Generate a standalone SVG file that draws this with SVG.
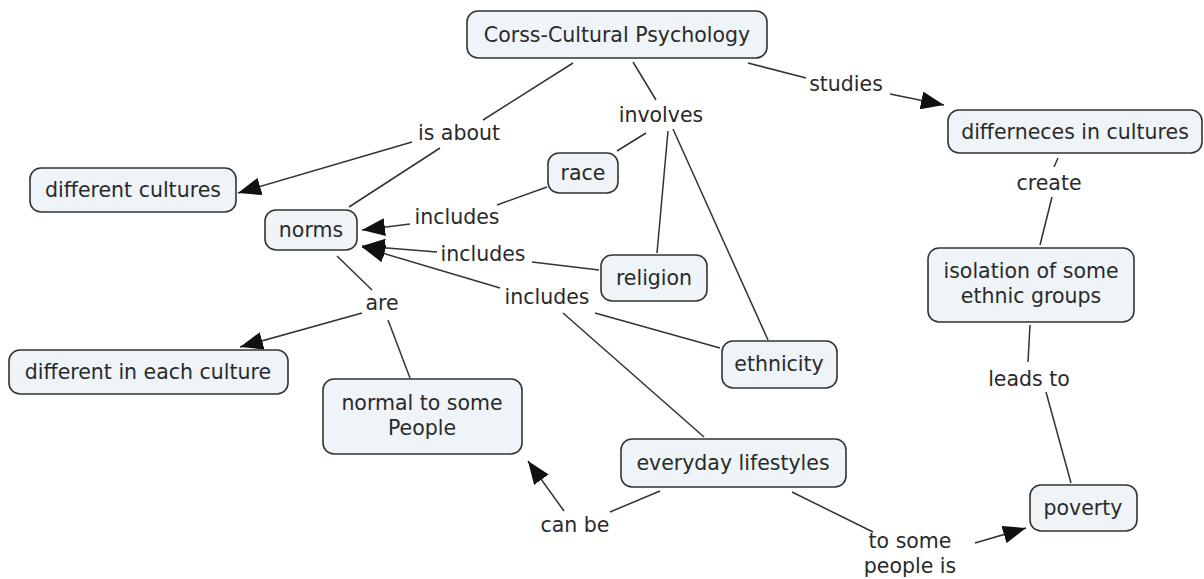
<svg xmlns="http://www.w3.org/2000/svg" width="1204" height="579" viewBox="0 0 1204 579">
<style>
.box{fill:#eef4f7;stroke:#333;stroke-width:1.6}
text{font-family:"DejaVu Sans","Verdana",sans-serif;font-size:20.5px;fill:#2a2a2a;text-anchor:middle}
.ln{stroke:#333;stroke-width:1.5;fill:none}
.ar{marker-end:url(#ah)}
</style>
<defs>
<marker id="ah" markerUnits="userSpaceOnUse" markerWidth="24" markerHeight="18" refX="23" refY="9" orient="auto">
<path d="M0,0 L23,9 L0,18 z" fill="#111"/>
</marker>
</defs>
<rect width="1204" height="579" fill="#fff"/>
<g id="connectors">
<path class="ln" d="M573,63 L483,120"/>
<path class="ln ar" d="M412,142 L238,193"/>
<path class="ln" d="M440,148 L349,207"/>
<path class="ln" d="M633,62 L656,100"/>
<path class="ln" d="M646,133 L617,151"/>
<path class="ln" d="M668,131 L657,253"/>
<path class="ln" d="M673,129 L768,340"/>
<path class="ln" d="M748,63 L806,78"/>
<path class="ln ar" d="M890,94 L944,105"/>
<path class="ln" d="M547,187 L497,205"/>
<path class="ln ar" d="M410,224 L362,230"/>
<path class="ln" d="M599,270 L532,262"/>
<path class="ln ar" d="M437,252 L362,246"/>
<path class="ln" d="M720,348 L595,313"/>
<path class="ln" d="M704,437 L563,313"/>
<path class="ln ar" d="M500,288 L362,247"/>
<path class="ln" d="M337,256 L372,290"/>
<path class="ln ar" d="M362,313 L240,347"/>
<path class="ln" d="M388,320 L410,378"/>
<path class="ln" d="M660,491 L610,512"/>
<path class="ln ar" d="M564,511 L528,461"/>
<path class="ln" d="M792,492 L873,532"/>
<path class="ln ar" d="M975,543 L1026,528"/>
<path class="ln" d="M1030,325 L1028,362"/>
<path class="ln" d="M1046,392 L1071,483"/>
<path class="ln" d="M1058,158 L1054,167"/>
<path class="ln" d="M1052,197 L1040,245"/>
</g>
<g id="labels">
<text x="459" y="140">is about</text>
<text x="661" y="122">involves</text>
<text x="846" y="91">studies</text>
<text x="457" y="224">includes</text>
<text x="483" y="261">includes</text>
<text x="547" y="304">includes</text>
<text x="382" y="310">are</text>
<text x="1049" y="190">create</text>
<text x="1029" y="386">leads to</text>
<text x="575" y="532">can be</text>
<text x="910" y="548">to some</text>
<text x="910" y="573">people is</text>
</g>
<g id="n-cc"><rect class="box" x="467" y="11" width="300" height="47" rx="11"/><text x="617" y="42">Corss-Cultural Psychology</text></g>
<g id="n-diffcult"><rect class="box" x="30" y="168" width="206" height="44" rx="11"/><text x="133" y="197">different cultures</text></g>
<g id="n-norms"><rect class="box" x="265" y="210" width="92" height="40" rx="11"/><text x="311" y="237">norms</text></g>
<g id="n-race"><rect class="box" x="548" y="153" width="70" height="40" rx="11"/><text x="583" y="180">race</text></g>
<g id="n-religion"><rect class="box" x="601" y="255" width="106" height="46" rx="11"/><text x="654" y="285">religion</text></g>
<g id="n-ethnicity"><rect class="box" x="722" y="341" width="115" height="47" rx="11"/><text x="779" y="371">ethnicity</text></g>
<g id="n-diffeach"><rect class="box" x="9" y="350" width="279" height="44" rx="11"/><text x="148" y="379">different in each culture</text></g>
<g id="n-normal"><rect class="box" x="323" y="379" width="199" height="75" rx="11"/><text x="422" y="410">normal to some</text><text x="422" y="435">People</text></g>
<g id="n-everyday"><rect class="box" x="621" y="439" width="225" height="48" rx="11"/><text x="733" y="470">everyday lifestyles</text></g>
<g id="n-differneces"><rect class="box" x="948" y="110" width="254" height="43" rx="11"/><text x="1075" y="139">differneces in cultures</text></g>
<g id="n-isolation"><rect class="box" x="928" y="248" width="206" height="74" rx="11"/><text x="1031" y="278">isolation of some</text><text x="1031" y="303">ethnic groups</text></g>
<g id="n-poverty"><rect class="box" x="1030" y="485" width="107" height="46" rx="11"/><text x="1083" y="515">poverty</text></g>
</svg>
